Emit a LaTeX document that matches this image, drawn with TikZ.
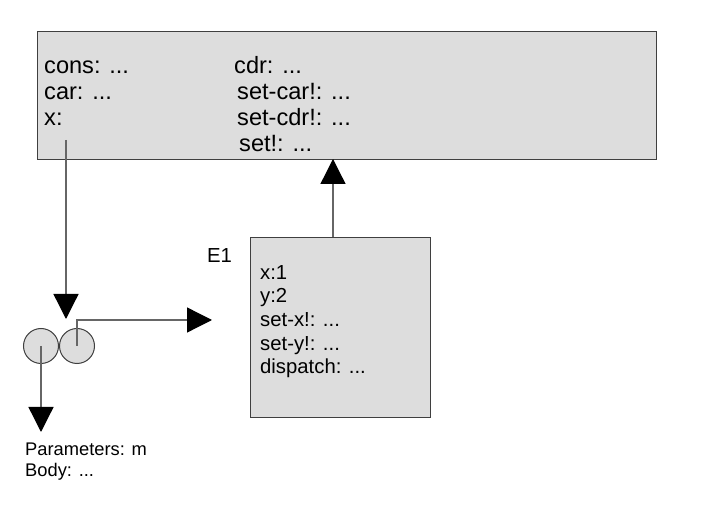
\documentclass[tikz,border=0pt]{standalone}
\usepackage{fontspec}
\setmainfont{Liberation Sans}
\usetikzlibrary{arrows.meta}
\definecolor{boxfill}{HTML}{DDDDDD}
\definecolor{boxline}{HTML}{3F3F3F}
\definecolor{wire}{HTML}{666666}
\begin{document}
\begin{tikzpicture}[x=1pt,y=-1pt,
  frame/.style={draw=boxline, fill=boxfill, line width=1.2pt, inner sep=0pt, anchor=north west},
  bigtxt/.style={anchor=base west, inner sep=0pt, font=\fontsize{23.6}{25}\selectfont},
  midtxt/.style={anchor=base west, inner sep=0pt, font=\fontsize{20.3}{23}\selectfont},
  smalltxt/.style={anchor=base west, inner sep=0pt, font=\fontsize{18.3}{21}\selectfont},
  cell/.style={circle, draw=boxline, fill=boxfill, line width=1pt, minimum size=35pt, inner sep=0pt},
  wireline/.style={draw=wire, line width=1.3pt},
  tip/.style={-{Triangle[length=25pt,width=25pt,color=black]}}]
\useasboundingbox (0,0) rectangle (715,526);
% global environment
\node[frame, minimum width=619pt, minimum height=128pt] (G) at (37,31) {};
\node[bigtxt] (cons) at (44,74) {cons: ...};
\node[bigtxt] (car) at (44,100) {car: ...};
\node[bigtxt] (x) at (44,126) {x:};
\node[bigtxt] (cdr) at (234,74) {cdr: ...};
\node[bigtxt] (setcar) at (237,100) {set-car!: ...};
\node[bigtxt] (setcdr) at (237,126) {set-cdr!: ...};
\node[bigtxt] (set) at (239,152) {set!: ...};
% E1
\node[frame, minimum width=180pt, minimum height=180pt] (E1) at (250,237) {};
\node[midtxt] (E1lab) at (207,263) {E1};
\node[midtxt] (ex) at (260,280) {x:1};
\node[midtxt] (ey) at (260,303) {y:2};
\node[midtxt] (esx) at (260,327) {set-x!: ...};
\node[midtxt] (esy) at (260,351) {set-y!: ...};
\node[midtxt] (edis) at (260,374) {dispatch: ...};
% procedure object
\node[cell] (c1) at (41,346) {};
\node[cell] (c2) at (77,346) {};
\node[smalltxt] (par) at (25,455) {Parameters: m};
\node[smalltxt] (body) at (25,476) {Body: ...};
% connector endpoints
\coordinate (xptr) at (66,140);
\coordinate (xtip) at (66,319);
\coordinate (e1up) at (333,237);
\coordinate (gdown) at (333,159);
\coordinate (envtip) at (212,320);
\coordinate (codetip) at (41,432);
% connectors
\draw[wireline, tip] (xptr) -- (xtip);
\draw[wireline, tip] (e1up) -- (gdown);
\draw[wireline, tip] (c2.center) |- (envtip);
\draw[wireline, tip] (c1.center) -- (codetip);
\end{tikzpicture}
\end{document}
